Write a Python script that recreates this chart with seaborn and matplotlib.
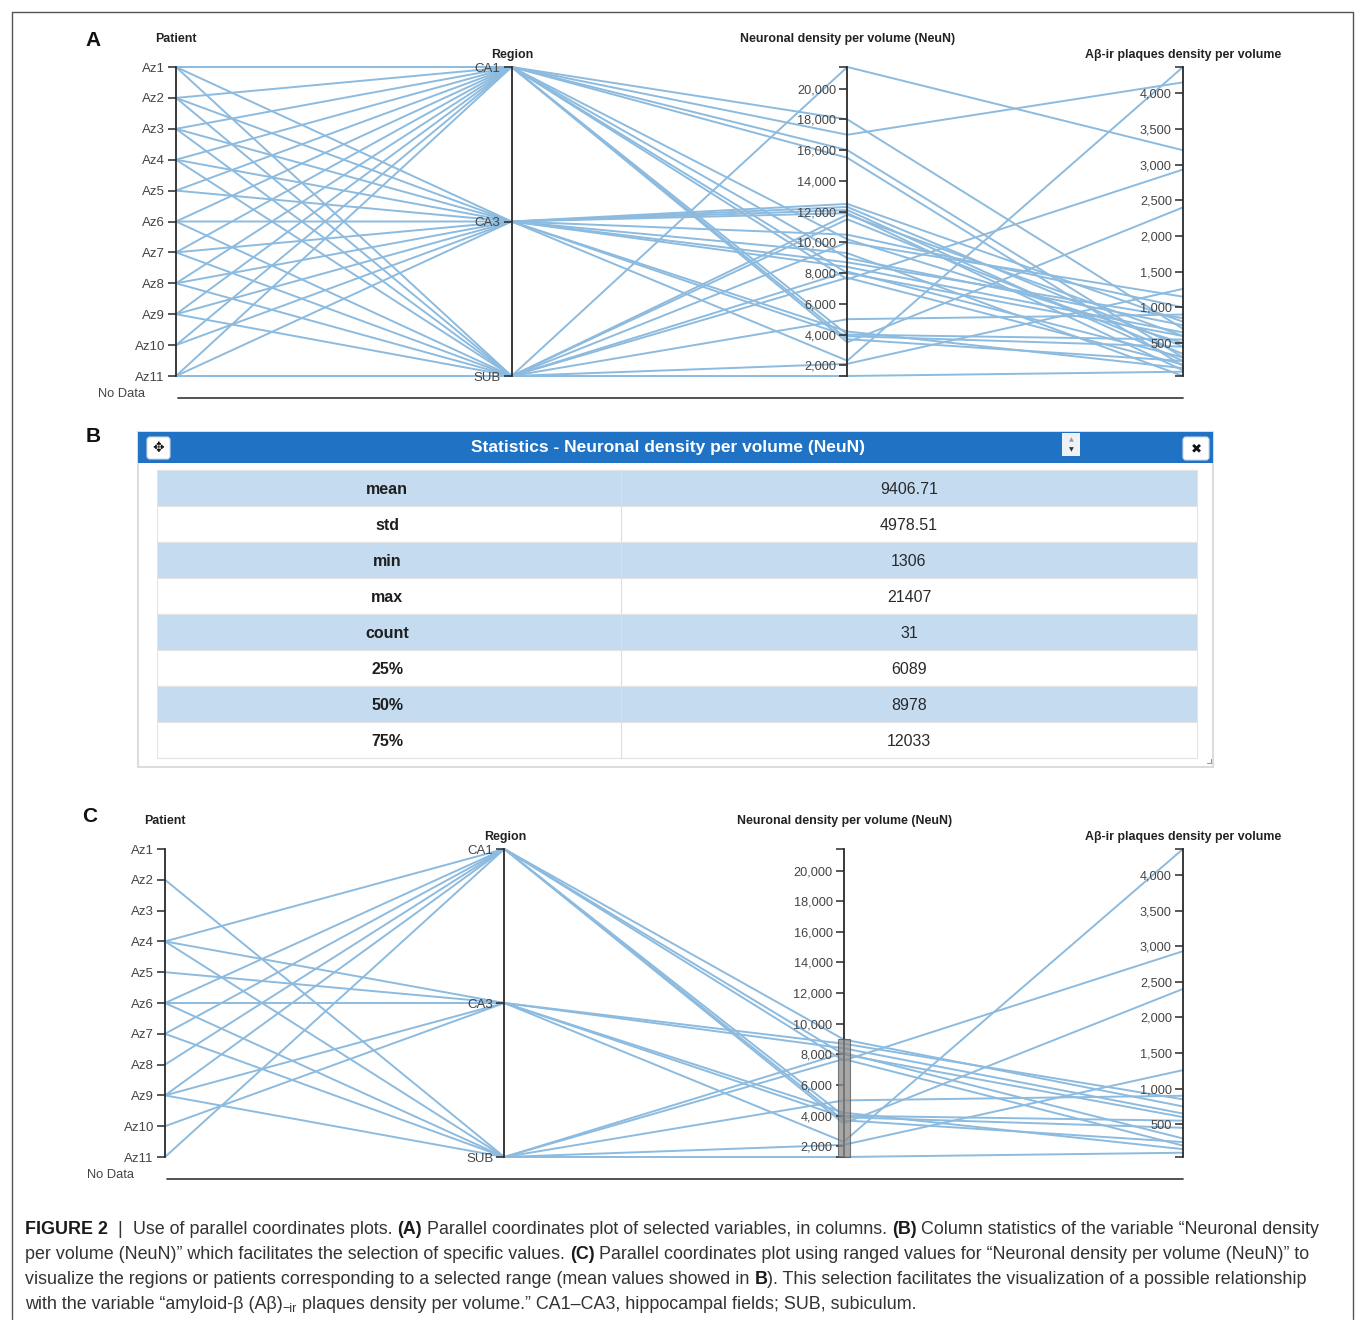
import numpy as np
import pandas as pd
import matplotlib
matplotlib.use("Agg")
import matplotlib.pyplot as plt
import seaborn as sns
from matplotlib.patches import Rectangle, FancyBboxPatch
from matplotlib.ticker import FuncFormatter, FixedLocator

# ---------------- data ----------------
patients = ["Az1", "Az2", "Az3", "Az4", "Az5", "Az6", "Az7", "Az8", "Az9", "Az10", "Az11"]
regions = ["CA1", "CA3", "SUB"]

rec_patient = ["Az1", "Az1", "Az1", "Az2", "Az2", "Az2", "Az3", "Az3", "Az3",
               "Az4", "Az4", "Az4", "Az5", "Az5", "Az6", "Az6", "Az6",
               "Az7", "Az7", "Az7", "Az8", "Az8", "Az8", "Az9", "Az9", "Az9",
               "Az10", "Az10", "Az11", "Az11", "Az11"]
rec_region = ["CA1", "CA3", "SUB", "CA1", "CA3", "SUB", "CA1", "CA3", "SUB",
              "CA1", "CA3", "SUB", "CA1", "CA3", "CA1", "CA3", "SUB",
              "CA1", "CA3", "SUB", "CA1", "CA3", "SUB", "CA1", "CA3", "SUB",
              "CA1", "CA3", "CA1", "CA3", "SUB"]
neun = [17000, 12500, 21407, 18000, 12300, 8100, 16000, 12100, 11800,
        8978, 8700, 7700, 15500, 8400, 8000, 4200, 5000,
        7600, 11900, 2100, 4000, 10500, 11500, 3700, 3900, 1306,
        10200, 2300, 3500, 9300, 10000]
abeta = [4150, 800, 3200, 700, 450, 300, 300, 250, 600,
         750, 850, 200, 180, 650, 600, 150, 900,
         2930, 120, 1260, 550, 1000, 350, 250, 450, 100,
         500, 4365, 2400, 40, 1150]

neun_ticks = list(range(2000, 20001, 2000))
abeta_ticks = list(range(500, 4001, 500))
brush_range = [1306, 8990]

stat_names = ["mean", "std", "min", "max", "count", "25%", "50%", "75%"]
stat_values = ["9406.71", "4978.51", "1306", "21407", "31", "6089", "8978", "12033"]

axis_titles = ["Patient", "Region", "Neuronal density per volume (NeuN)",
               "A\u03b2-ir plaques density per volume"]

# ---------------- style ----------------
sns.set_theme(style="white")
plt.rcParams["font.family"] = ["Liberation Sans", "DejaVu Sans"]
LINE = "#8cbbdf"
AXC = "#2a2a2a"
TXT = "#444444"

W, H = 1355, 1320
fig = plt.figure(figsize=(W / 100, H / 100), dpi=100)
bg = fig.add_axes([0, 0, 1, 1], zorder=0)
bg.set_xlim(0, W)
bg.set_ylim(H, 0)
bg.axis("off")

df = pd.DataFrame({"patient": rec_patient, "region": rec_region,
                   "neun": neun, "abeta": abeta})
n_lo, n_hi = df["neun"].min(), df["neun"].max()
a_lo, a_hi = df["abeta"].min(), df["abeta"].max()


def normalize(d):
    p = d["patient"].map({p: 1 - k / (len(patients) - 1) for k, p in enumerate(patients)})
    r = d["region"].map({r: 1 - k / (len(regions) - 1) for k, r in enumerate(regions)})
    nn = (d["neun"] - n_lo) / (n_hi - n_lo)
    aa = (d["abeta"] - a_lo) / (a_hi - a_lo)
    return [p, r, nn, aa]


def draw_panel(xs, y_top, y_bot, d, brush=None):
    x0, x1 = xs[0], xs[-1]
    ax = fig.add_axes([x0 / W, 1 - y_bot / H, (x1 - x0) / W, (y_bot - y_top) / H], zorder=2)
    cols = normalize(d)
    rows = []
    for rid in range(len(d)):
        for i in range(4):
            rows.append({"rid": rid, "axis": i, "norm": cols[i].iloc[rid]})
    long = pd.DataFrame(rows)
    sns.lineplot(data=long, x="axis", y="norm", units="rid", estimator=None,
                 color=LINE, linewidth=1.4, ax=ax, legend=False, sort=False)
    ax.set_xlim(0, 3)
    ax.set_ylim(0, 1)
    ax.axis("off")
    for ln in ax.lines:
        ln.set_clip_on(False)

    for i in range(4):
        iax = ax.inset_axes([i / 3, 0, 1e-4, 1])
        iax.patch.set_visible(False)
        for s in ["top", "right", "bottom"]:
            iax.spines[s].set_visible(False)
        iax.spines["left"].set_color(AXC)
        iax.spines["left"].set_linewidth(1.3)
        iax.set_xticks([])
        if i == 0:
            iax.set_ylim(len(patients) - 1, 0)
            iax.set_yticks(range(len(patients)))
            iax.set_yticklabels(patients)
        elif i == 1:
            iax.set_ylim(len(regions) - 1, 0)
            iax.set_yticks(range(len(regions)))
            iax.set_yticklabels(regions)
        else:
            lo, hi = (n_lo, n_hi) if i == 2 else (a_lo, a_hi)
            ticks = neun_ticks if i == 2 else abeta_ticks
            iax.set_ylim(lo, hi)
            iax.yaxis.set_major_locator(FixedLocator(ticks))
            iax.yaxis.set_major_formatter(FuncFormatter(lambda v, p: f"{v:,.0f}"))
            iax.yaxis.set_minor_locator(FixedLocator([lo, hi]))
        iax.tick_params(axis="y", which="both", direction="out", length=6, width=1.1,
                        color=AXC, labelsize=9.5 if i < 2 else 9.2, labelcolor=TXT,
                        pad=2, left=True)
        # axis title
        ty = y_top - 28 if i % 2 == 0 else y_top - 12
        bg.text(xs[i], ty, axis_titles[i], fontsize=8.9, fontweight="bold",
                color="#222222", ha="center", va="center")

    if brush is not None:
        hw = 6 / ((x1 - x0) / 3)
        b0 = (brush[0] - n_lo) / (n_hi - n_lo)
        b1 = (brush[1] - n_lo) / (n_hi - n_lo)
        ax.add_patch(Rectangle((2 - hw, b0), 2 * hw, b1 - b0, facecolor="#8a8a8a",
                               alpha=0.75, edgecolor="#555555", lw=0.8, zorder=6,
                               clip_on=False))

    # No Data line
    bg.plot([x0 + 2, x1], [y_bot + 22, y_bot + 22], color="#444444", lw=1.3)
    bg.text(x0 - 31, y_bot + 18, "No Data", fontsize=9.3, color=TXT, ha="right", va="center")
    return ax


# Panel A
draw_panel([176, 512, 848, 1183], 67, 376, df)
# Panel C : records inside the brushed NeuN range
sel = df[(df["neun"] >= brush_range[0]) & (df["neun"] <= brush_range[1])].reset_index(drop=True)
draw_panel([165, 505, 845, 1183], 849, 1157, sel, brush=brush_range)

# panel letters
for lab, x, y in [("A", 93, 40), ("B", 93, 437), ("C", 90, 816)]:
    bg.text(x, y, lab, fontsize=15, fontweight="bold", ha="center", va="center", color="#111111")

# ---------------- Panel B : statistics window ----------------
bg.add_patch(Rectangle((138, 432), 1075, 335, facecolor="white", edgecolor="#dcdcdc", lw=1.5))
bg.add_patch(Rectangle((138, 432), 1075, 31, facecolor="#1f72c4", edgecolor="none"))
bg.text(668, 447.5, "Statistics - Neuronal density per volume (NeuN)", fontsize=12.5,
        fontweight="bold", color="white", ha="center", va="center")
bg.add_patch(FancyBboxPatch((147, 437), 23, 22, boxstyle="round,pad=0,rounding_size=3",
                            facecolor="white", edgecolor="#cfd8e3", lw=0.8))
bg.text(158.5, 448, "\u2725", fontsize=10, color="#111111", ha="center", va="center",
        family=["DejaVu Sans"])
bg.add_patch(FancyBboxPatch((1183, 437), 26, 23, boxstyle="round,pad=0,rounding_size=3",
                            facecolor="white", edgecolor="#cfd8e3", lw=0.8))
bg.text(1196, 448.5, "\u2716", fontsize=9.5, color="#111111", ha="center", va="center",
        family=["DejaVu Sans"])
bg.add_patch(Rectangle((1062, 433), 18, 23, facecolor="#eef2f7", edgecolor="none"))
bg.text(1071, 440, "\u25b2", fontsize=4.5, color="#999999", ha="center", va="center",
        family=["DejaVu Sans"])
bg.text(1071, 450, "\u25bc", fontsize=4.5, color="#333333", ha="center", va="center",
        family=["DejaVu Sans"])

ROW_H = 36
T_X0, T_X1, T_DIV = 157, 1197, 621
T_Y0 = 470
for k, (nm, val) in enumerate(zip(stat_names, stat_values)):
    y0 = T_Y0 + k * ROW_H
    fc = "#c4dbf0" if k % 2 == 0 else "white"
    bg.add_patch(Rectangle((T_X0, y0), T_X1 - T_X0, ROW_H, facecolor=fc,
                           edgecolor="#e4e4e4", lw=0.8))
    bg.plot([T_DIV, T_DIV], [y0, y0 + ROW_H], color="#dedede", lw=0.8)
    bg.text(387, y0 + ROW_H / 2 + 1, nm, fontsize=11.5, fontweight="bold", color="#1e1e1e",
            ha="center", va="center")
    bg.text(909, y0 + ROW_H / 2 + 1, val, fontsize=11.5, color="#2a2a2a", ha="center", va="center")
bg.plot([1207, 1211], [763, 763], color="#999999", lw=0.8)
bg.plot([1211, 1211], [759, 763], color="#999999", lw=0.8)

# ---------------- figure frame ----------------
bg.plot([12, 1353, 1353], [12, 12, 1319], color="#555555", lw=1.0)
bg.plot([12, 12], [12, 1319], color="#555555", lw=1.0)

# ---------------- caption ----------------
cap_lines = [
    [("FIGURE 2", "bold", ""), ("  |  ", "normal", ""), ("Use of parallel coordinates plots. ", "normal", ""),
     ("(A)", "bold", ""), (" Parallel coordinates plot of selected variables, in columns. ", "normal", ""),
     ("(B)", "bold", ""), (" Column statistics of the variable \u201cNeuronal density", "normal", "")],
    [("per volume (NeuN)\u201d which facilitates the selection of specific values. ", "normal", ""),
     ("(C)", "bold", ""),
     (" Parallel coordinates plot using ranged values for \u201cNeuronal density per volume (NeuN)\u201d to", "normal", "")],
    [("visualize the regions or patients corresponding to a selected range (mean values showed in ", "normal", ""),
     ("B", "bold", ""), ("). This selection facilitates the visualization of a possible relationship", "normal", "")],
    [("with the variable \u201camyloid-\u03b2 (A\u03b2)", "normal", ""), ("\u2212ir", "normal", "sub"),
     (" plaques density per volume.\u201d CA1\u2013CA3, hippocampal fields; SUB, subiculum.", "normal", "")],
]
renderer = fig.canvas.get_renderer()


def seg_width(s, weight, size):
    t1 = bg.text(0, 0, "|" + s + "|", fontsize=size, fontweight=weight)
    t2 = bg.text(0, 0, "||", fontsize=size, fontweight=weight)
    w = t1.get_window_extent(renderer).width - t2.get_window_extent(renderer).width
    t1.remove()
    t2.remove()
    return w


base = 12.0
w1 = sum(seg_width(s, wt, base * (0.7 if m == "sub" else 1)) for s, wt, m in cap_lines[0])
fs = base * 1298 / w1
baselines = [1234, 1259, 1284, 1309]
for segs, yb in zip(cap_lines, baselines):
    x = 25
    for s, wt, m in segs:
        size = fs * (0.7 if m == "sub" else 1)
        dy = 3 if m == "sub" else 0
        col = "#1a1a1a" if wt == "bold" else "#333333"
        bg.text(x, yb + dy, s, fontsize=size, fontweight=wt, color=col, ha="left", va="baseline")
        x += seg_width(s, wt, size)

fig.savefig("out.png", dpi=100, facecolor="white")
